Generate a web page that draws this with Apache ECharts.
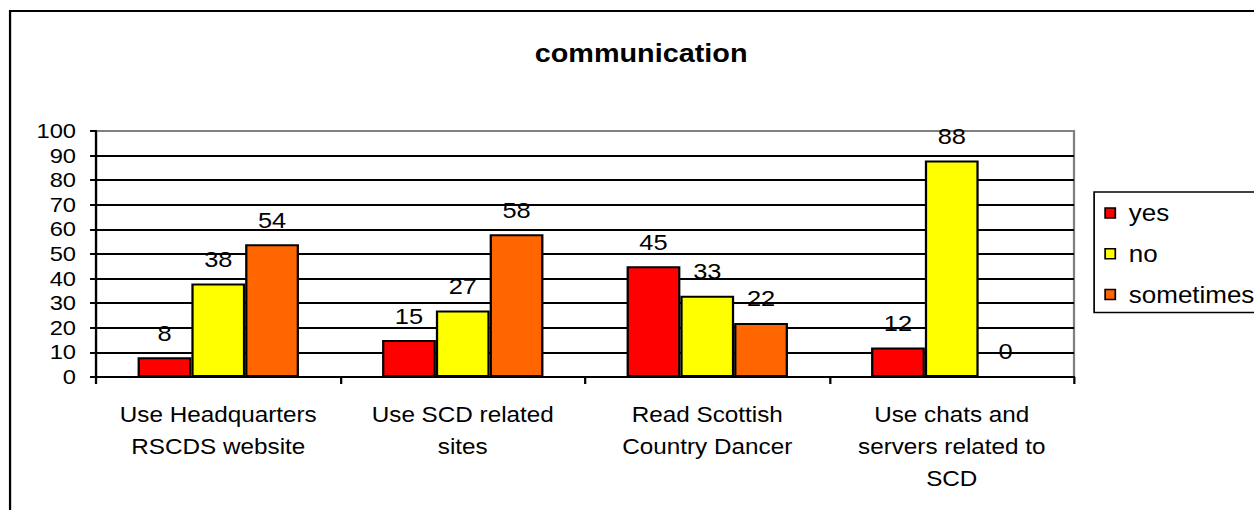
<!DOCTYPE html>
<html>
<head>
<meta charset="utf-8">
<script src="https://cdn.jsdelivr.net/npm/echarts@6/dist/echarts.min.js"></script>
<style>
  html, body { margin: 0; padding: 0; background: #fff; overflow: hidden; }
  /* the chart is laid out narrower and widened horizontally, giving the wide lettering */
  #chart { width: 1110px; height: 510px; transform: scaleX(1.1297); transform-origin: 0 0; }
</style>
</head>
<body>
<div id="chart"></div>
<script>
// Survey answers per communication channel (percent)
const categories = [
  'Use Headquarters\nRSCDS website',
  'Use SCD related\nsites',
  'Read Scottish\nCountry Dancer',
  'Use chats and\nservers related to\nSCD'
];
const yesValues = [8, 15, 45, 12];
const noValues = [38, 27, 33, 88];
const sometimesValues = [54, 58, 22, 0];
const seriesNames = ['yes', 'no', 'sometimes'];
const seriesColors = ['#FF0000', '#FFFF00', '#FF6600'];

const FONT = '"Liberation Sans", Arial, sans-serif';

// black grid lines, with the top (100) one grey like the plot border
const splitColors = [];
for (let i = 0; i <= 10; i++) splitColors.push(i === 10 ? '#808080' : '#000000');

function barSeries(name, data, color) {
  return {
    name: name,
    type: 'bar',
    data: data,
    barGap: '0%',
    barCategoryGap: '34%',
    itemStyle: { color: color, borderColor: '#000', borderWidth: 2 },
    label: {
      show: true,
      position: 'top',
      distance: 13,
      color: '#000',
      fontFamily: FONT,
      fontSize: 22.5
    }
  };
}

const chart = echarts.init(document.getElementById('chart'), null, { renderer: 'svg' });
chart.setOption({
  animation: false,
  backgroundColor: '#fff',
  title: {
    text: 'communication',
    left: 562.5,
    textAlign: 'center',
    top: 35,
    textStyle: { fontFamily: FONT, fontSize: 25.5, fontWeight: 'bold', color: '#000' }
  },
  graphic: [{
    type: 'rect',
    shape: { x: 8.9, y: 11, width: 1130, height: 520 },
    style: { fill: 'none', stroke: '#000', lineWidth: 2 },
    silent: true,
    z: 100
  }],
  legend: {
    orient: 'vertical',
    left: 968.5,
    top: 192,
    padding: [9, 40, 6, 9],
    itemGap: 16.8,
    itemWidth: 9,
    itemHeight: 10,
    icon: 'rect',
    borderColor: '#000',
    borderWidth: 1.5,
    data: seriesNames,
    itemStyle: { borderColor: '#000', borderWidth: 1.5 },
    textStyle: { fontFamily: FONT, fontSize: 23, color: '#000', padding: [0, 0, 0, 7], lineHeight: 24 }
  },
  grid: {
    left: 85,
    right: 159.3,
    top: 131,
    bottom: 133,
    show: true,
    borderColor: '#808080',
    borderWidth: 2,
    backgroundColor: 'transparent'
  },
  xAxis: {
    type: 'category',
    data: categories,
    axisLine: { lineStyle: { color: '#000', width: 2 } },
    axisTick: { show: true, length: 7, lineStyle: { color: '#000', width: 2 } },
    axisLabel: {
      color: '#000',
      fontFamily: FONT,
      fontSize: 21.5,
      lineHeight: 32,
      margin: 22,
      interval: 0
    }
  },
  yAxis: {
    type: 'value',
    min: 0,
    max: 100,
    interval: 10,
    axisLine: { show: true, lineStyle: { color: '#000', width: 2 } },
    axisTick: { show: true, length: 5.3, lineStyle: { color: '#000', width: 2 } },
    axisLabel: { color: '#000', fontFamily: FONT, fontSize: 21, margin: 17.7 },
    splitLine: { show: true, lineStyle: { color: splitColors, width: 2 } }
  },
  series: [
    barSeries(seriesNames[0], yesValues, seriesColors[0]),
    barSeries(seriesNames[1], noValues, seriesColors[1]),
    barSeries(seriesNames[2], sometimesValues, seriesColors[2])
  ]
});
</script>
</body>
</html>
